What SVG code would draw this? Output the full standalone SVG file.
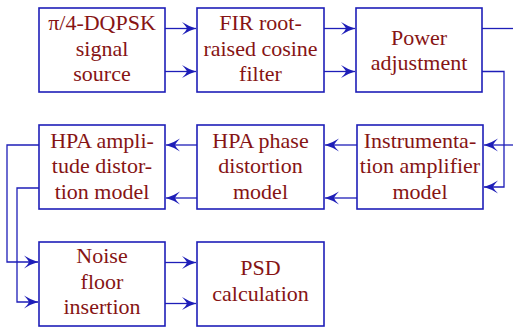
<svg xmlns="http://www.w3.org/2000/svg" width="513" height="327" viewBox="0 0 513 327">
<style>
.box{fill:#fff;stroke:#1e1eb8;stroke-width:1.6}
.t{font-family:"Liberation Serif","Times New Roman",serif;font-size:22px;fill:#861414;text-anchor:middle}
.c{fill:none;stroke:#1e1eb8;stroke-width:1.3}
</style>
<defs>
<marker id="ah" markerUnits="userSpaceOnUse" markerWidth="16" markerHeight="16" viewBox="-15 -8 16 16" refX="0" refY="0" orient="auto">
<path d="M0,0 Q-7,-2 -14,-6.5 Q-10,-2.5 -9,0 Q-10,2.5 -14,6.5 Q-7,2 0,0 Z" fill="#1e1eb8"/>
</marker>
</defs>
<rect width="513" height="327" fill="#fff"/>
<g id="connectors">
<path class="c" d="M165,28.5 H196" marker-end="url(#ah)"/>
<path class="c" d="M165,71.5 H196" marker-end="url(#ah)"/>
<path class="c" d="M324,28.5 H355" marker-end="url(#ah)"/>
<path class="c" d="M324,71.5 H355" marker-end="url(#ah)"/>
<path class="c" d="M482,28.5 H514"/>
<path class="c" d="M482,71.5 H504 V187 H484" marker-end="url(#ah)"/>
<path class="c" d="M514,145 H484" marker-end="url(#ah)"/>
<path class="c" d="M357,145 H325" marker-end="url(#ah)"/>
<path class="c" d="M357,198 H325" marker-end="url(#ah)"/>
<path class="c" d="M197,145 H166" marker-end="url(#ah)"/>
<path class="c" d="M197,198 H166" marker-end="url(#ah)"/>
<path class="c" d="M39,145 H7 V262 H38" marker-end="url(#ah)"/>
<path class="c" d="M39,188 H17 V302 H38" marker-end="url(#ah)"/>
<path class="c" d="M165,262.5 H196" marker-end="url(#ah)"/>
<path class="c" d="M165,303.5 H196" marker-end="url(#ah)"/>
</g>
<g id="source">
<rect class="box" x="39" y="8" width="126" height="84"/>
<text class="t" x="102" y="30">π/4-DQPSK</text>
<text class="t" x="102" y="55.5">signal</text>
<text class="t" x="102" y="81">source</text>
</g>
<g id="fir">
<rect class="box" x="197" y="8" width="127" height="84"/>
<text class="t" x="260.5" y="30">FIR root-</text>
<text class="t" x="260.5" y="55.5">raised cosine</text>
<text class="t" x="260.5" y="81">filter</text>
</g>
<g id="power">
<rect class="box" x="356" y="8" width="126" height="84"/>
<text class="t" x="419" y="44.5">Power</text>
<text class="t" x="419" y="70">adjustment</text>
</g>
<g id="instr">
<rect class="box" x="357" y="125" width="126" height="84"/>
<text class="t" x="420" y="147.5">Instrumenta-</text>
<text class="t" x="420" y="173">tion amplifier</text>
<text class="t" x="420" y="198.5">model</text>
</g>
<g id="hpaphase">
<rect class="box" x="197" y="125" width="127" height="84"/>
<text class="t" x="260.5" y="147.5">HPA phase</text>
<text class="t" x="260.5" y="173">distortion</text>
<text class="t" x="260.5" y="198.5">model</text>
</g>
<g id="hpaamp">
<rect class="box" x="39" y="125" width="126" height="84"/>
<text class="t" x="102" y="147.5">HPA ampli-</text>
<text class="t" x="102" y="173">tude distor-</text>
<text class="t" x="102" y="198.5">tion model</text>
</g>
<g id="noise">
<rect class="box" x="39" y="242" width="126" height="84"/>
<text class="t" x="102" y="263">Noise</text>
<text class="t" x="102" y="289">floor</text>
<text class="t" x="102" y="314">insertion</text>
</g>
<g id="psd">
<rect class="box" x="197" y="242" width="127" height="84"/>
<text class="t" x="260.5" y="275">PSD</text>
<text class="t" x="260.5" y="300.5">calculation</text>
</g>
</svg>
